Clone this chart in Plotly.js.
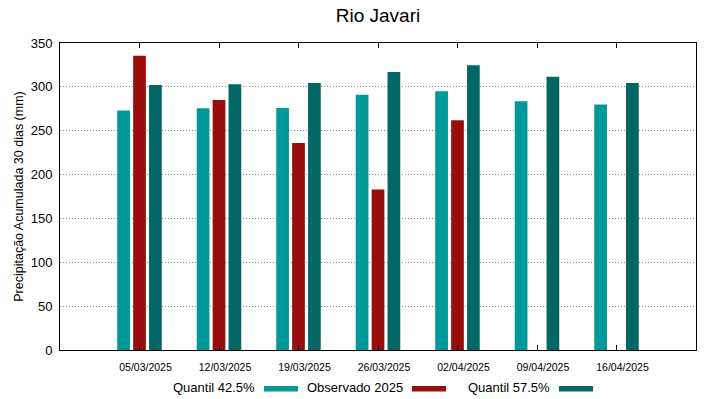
<!DOCTYPE html>
<html>
<head>
<meta charset="utf-8">
<script src="https://cdn.plot.ly/plotly-3.0.1.min.js"></script>
<style>html,body{margin:0;padding:0;background:#fff;}#chart{width:719px;height:399px;}</style>
</head>
<body>
<div id="chart"></div>
<script>
const categories = ["05/03/2025","12/03/2025","19/03/2025","26/03/2025","02/04/2025","09/04/2025","16/04/2025"];
const seriesNames = ["Quantil 42.5%","Observado 2025","Quantil 57.5%"];
const q425 = [273, 275.5, 276, 291, 295, 283.5, 280];
const obs2025 = [335.5, 285, 236, 183, 262, null, null];
const q575 = [302, 303, 304.5, 317, 324.5, 311.5, 304.5];
const yTicks = [0, 50, 100, 150, 200, 250, 300, 350];
const colors = ["#009999", "#990d0d", "#006666"];

const seriesValues = [q425, obs2025, q575];
const traces = seriesValues.map((vals, i) => ({
  type: "bar",
  name: seriesNames[i],
  x: categories,
  y: vals,
  marker: {color: colors[i], line: {width: 0}},
  showlegend: false,
  hoverinfo: "x+y+name"
}));

const font = "Liberation Sans, Arial, sans-serif";
// plot area in px: x 60..696, y 43..350
const px = v => (v - 60) / 636;
const py = v => (350 - v) / 307;
// legend drawn gnuplot-style: text followed by swatch
const legendTextRight = [257, 405, 552];
const swatchLeft = [264, 412, 559];
const annotations = [];
const shapes = [];
seriesNames.forEach((n, i) => {
  annotations.push({
    xref: "paper", yref: "paper", x: px(legendTextRight[i]), y: py(387),
    xanchor: "right", yanchor: "middle", text: n, showarrow: false,
    font: {family: font, size: 13, color: "#000"}
  });
  shapes.push({
    type: "rect", xref: "paper", yref: "paper",
    x0: px(swatchLeft[i]), x1: px(swatchLeft[i] + 34), y0: py(391.5), y1: py(386),
    fillcolor: colors[i], line: {width: 0}
  });
});

const layout = {
  width: 719, height: 399,
  margin: {l: 60, r: 23, t: 43, b: 49, pad: 0},
  paper_bgcolor: "#fff", plot_bgcolor: "#fff",
  title: {text: "Rio Javari", xref: "paper", x: 0.5, xanchor: "center", y: 0.962, yanchor: "middle",
          font: {family: font, size: 19, color: "#000"}},
  barmode: "group",
  bargap: 0.4,
  bargroupgap: 0.2,
  font: {family: font, color: "#000"},
  xaxis: {
    type: "category",
    categoryorder: "array", categoryarray: categories,
    range: [-1, 7],
    showline: true, linecolor: "#000", linewidth: 1, mirror: "allticks",
    ticks: "inside", ticklen: 5, tickcolor: "#000", tickwidth: 1,
    showgrid: false, zeroline: false,
    tickfont: {family: font, size: 10.5, color: "#000"},
    ticklabelstandoff: 7,
    ticklabelshift: 6
  },
  yaxis: {
    range: [0, 350],
    tickmode: "array", tickvals: yTicks, ticktext: yTicks.map(String),
    showline: true, linecolor: "#000", linewidth: 1, mirror: true,
    ticks: "", showgrid: true, gridcolor: "#888888", griddash: "1px,2px", gridwidth: 1,
    zeroline: false,
    tickfont: {family: font, size: 13, color: "#000"},
    ticklabelstandoff: 4,
    title: {text: "Precipitação Acumulada 30 dias (mm)", standoff: 4,
            font: {family: font, size: 12.5, color: "#000"}}
  },
  annotations: annotations,
  shapes: shapes
};

Plotly.newPlot("chart", traces, layout, {displayModeBar: false, staticPlot: true});
</script>
</body>
</html>
